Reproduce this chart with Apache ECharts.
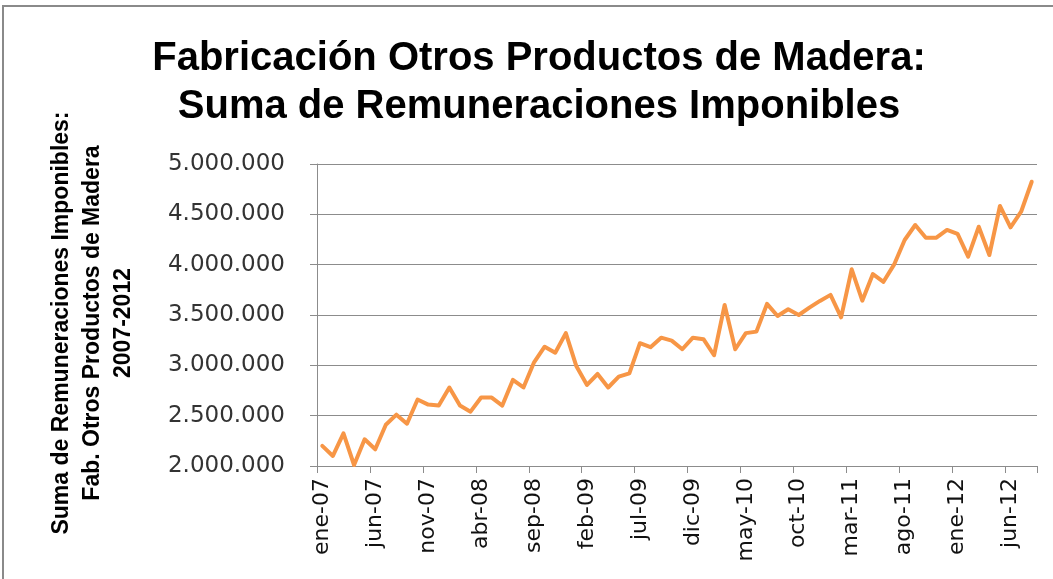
<!DOCTYPE html>
<html>
<head>
<meta charset="utf-8">
<script src="https://cdn.jsdelivr.net/npm/echarts@6/dist/echarts.min.js"></script>
<style>
  html, body { margin: 0; padding: 0; background: #ffffff; }
  #chart { width: 1053px; height: 579px; }
</style>
</head>
<body>
<div id="chart"></div>
<script>
// Monthly categories, ene-07 .. ago-12
const months = ['ene', 'feb', 'mar', 'abr', 'may', 'jun', 'jul', 'ago', 'sep', 'oct', 'nov', 'dic'];
const years = ['07', '08', '09', '10', '11', '12'];
const categories = [];
years.forEach(function (y) {
  months.forEach(function (m) { categories.push(m + '-' + y); });
});
categories.length = 68;

// Suma de remuneraciones imponibles (pesos)
const remuneraciones = [
  2200000, 2100000, 2325000, 2010000, 2265000, 2166000, 2410000, 2510000, 2420000, 2660000, 2610000, 2600000,
  2780000, 2600000, 2540000, 2680000, 2680000, 2600000, 2855000, 2780000, 3030000, 3185000, 3125000, 3320000,
  2990000, 2805000, 2914000, 2780000, 2887000, 2920000, 3220000, 3180000, 3275000, 3245000, 3160000, 3275000,
  3260000, 3100000, 3600000, 3160000, 3320000, 3335000, 3610000, 3490000, 3557000, 3500000, 3573000, 3640000,
  3700000, 3477000, 3954000, 3642000, 3907000, 3830000, 4000000, 4245000, 4394000, 4268000, 4268000, 4345000,
  4305000, 4080000, 4377000, 4096000, 4583000, 4371000, 4526000, 4824000
];

const yMin = 2000000;
const yMax = 5000000;
const yStep = 500000;

const titleLines = ['Fabricación Otros Productos de Madera:', 'Suma de Remuneraciones Imponibles'];
const yAxisTitle = ['Suma de Remuneraciones Imponibles:', 'Fab. Otros Productos de Madera', '2007-2012'];

function puntos(v) {
  return String(v).replace(/\B(?=(\d{3})+(?!\d))/g, '.');
}

const chart = echarts.init(document.getElementById('chart'), null, { renderer: 'canvas' });
chart.setOption({
  backgroundColor: '#ffffff',
  animation: false,
  title: {
    text: titleLines.join('\n'),
    left: 534,
    textAlign: 'center',
    top: 30,
    textStyle: {
      fontFamily: 'Liberation Sans, Arial, sans-serif',
      fontWeight: 'bold',
      fontSize: 40,
      lineHeight: 48,
      color: '#000000'
    }
  },
  graphic: [{
    type: 'rect',
    silent: true,
    shape: { x: 3, y: 6, width: 1100, height: 620 },
    style: { fill: 'none', stroke: '#8a8a8a', lineWidth: 2 }
  }],
  grid: { left: 317, right: 16, top: 164, bottom: 113 },
  xAxis: {
    type: 'category',
    data: categories,
    boundaryGap: true,
    axisLine: { show: true, lineStyle: { color: '#8c8c8c', width: 1 } },
    axisTick: { show: true, interval: 4, length: 7, lineStyle: { color: '#8c8c8c' } },
    axisLabel: {
      interval: 4,
      rotate: 90,
      margin: 12,
      fontFamily: 'DejaVu Sans, Verdana, sans-serif',
      fontSize: 22,
      color: '#111111'
    },
    splitLine: { show: false }
  },
  yAxis: {
    type: 'value',
    min: yMin,
    max: yMax,
    interval: yStep,
    name: yAxisTitle.join('\n'),
    nameLocation: 'middle',
    nameRotate: 90,
    nameGap: 178,
    nameTextStyle: {
      fontFamily: 'Liberation Sans, Arial, sans-serif',
      fontWeight: 'bold',
      fontSize: 23,
      lineHeight: 31,
      color: '#000000',
      padding: [0, 16, 0, 0]
    },
    axisLine: { show: true, lineStyle: { color: '#8c8c8c', width: 1 } },
    axisTick: { show: true, length: 7, lineStyle: { color: '#8c8c8c' } },
    axisLabel: {
      margin: 32,
      fontFamily: 'DejaVu Sans, Verdana, sans-serif',
      fontSize: 23,
      color: '#333333',
      formatter: puntos
    },
    splitLine: { show: true, lineStyle: { color: '#8c8c8c', width: 1 } }
  },
  series: [{
    type: 'line',
    data: remuneraciones,
    symbol: 'none',
    smooth: false,
    lineStyle: { color: '#F79646', width: 4, join: 'round', cap: 'round' },
    itemStyle: { color: '#F79646' }
  }]
});
</script>
</body>
</html>
